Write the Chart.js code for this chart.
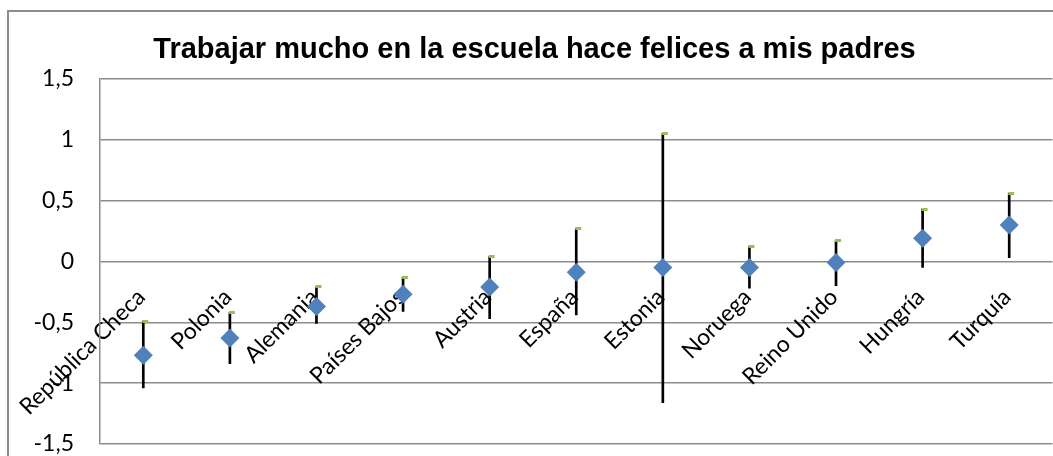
<!DOCTYPE html>
<html>
<head>
<meta charset="utf-8">
<script src="https://cdn.jsdelivr.net/npm/chart.js@4"></script>
<style>
html, body { margin: 0; padding: 0; background: #fff; overflow: hidden; }
#frame { position: absolute; left: 7px; top: 10px; width: 1064px; height: 470px; border: 2px solid #8c8c8c; box-sizing: border-box; }
#box { position: absolute; left: 8px; top: 11px; width: 1054px; height: 450px; }
</style>
</head>
<body>
<div id="frame"></div>
<div id="box"><canvas id="myChart"></canvas></div>
<script>
// values
const countries = ["República Checa", "Polonia", "Alemania", "Países Bajos", "Austria", "España",
                   "Estonia", "Noruega", "Reino Unido", "Hungría", "Turquía"];
const means = [-0.77, -0.63, -0.37, -0.27, -0.21, -0.09, -0.05, -0.05, -0.01, 0.19, 0.30];
const upper = [-0.49, -0.42, -0.21, -0.13, 0.04, 0.27, 1.05, 0.12, 0.17, 0.43, 0.56];
const lower = [-1.04, -0.84, -0.51, -0.41, -0.47, -0.44, -1.16, -0.22, -0.20, -0.05, 0.03];

const yTickValues = [-1.5, -1, -0.5, 0, 0.5, 1, 1.5];
const yTickLabels = ["-1,5", "-1", "-0,5", "0", "0,5", "1", "1,5"];

const chartTitle = "Trabajar mucho en la escuela hace felices a mis padres";

// little green dash at the top of each whisker (sits right of the line)
const dash = document.createElement("canvas");
dash.width = 12;
dash.height = 3;
let dctx = dash.getContext("2d");
dctx.fillStyle = "#9bbb59";
dctx.fillRect(5, 0, 6, 3);

const gridGray = "#8c8c8c";
const labelFont = { family: "Lato", size: 23 };

let ctx = document.getElementById("myChart").getContext("2d");
var chart = new Chart(ctx, {
    type: "line",
    data: {
        labels: countries,
        datasets: [
            {
                label: "media",
                data: means,
                showLine: false,
                pointStyle: "rectRot",
                pointRadius: 9.5,
                pointBorderWidth: 0,
                backgroundColor: "#4f81bd",
                borderColor: "#4f81bd"
            },
            {
                label: "alto",
                data: upper,
                showLine: false,
                pointStyle: dash,
                pointRadius: 6
            },
            {
                type: "bar",
                label: "rango",
                data: lower.map((l, i) => [l, upper[i]]),
                backgroundColor: "#000",
                borderWidth: 0,
                barThickness: 2
            }
        ]
    },
    options: {
        responsive: true,
        maintainAspectRatio: false,
        animation: false,
        events: [],
        layout: { padding: { left: 0, right: 1, top: 0, bottom: 17 } },
        plugins: {
            legend: { display: false },
            tooltip: { enabled: false },
            title: {
                display: true,
                text: chartTitle,
                color: "#000",
                font: { family: "Liberation Sans", size: 29, weight: "bold", lineHeight: 1.2 },
                padding: { top: 22, bottom: 11 }
            }
        },
        scales: {
            x: {
                type: "category",
                position: { y: 0 },
                offset: true,
                // the rotated labels may hang outside the plot, don't let them push it
                afterFit: (scale) => {
                    scale.paddingLeft = 0;
                    scale.paddingRight = 0;
                    scale.paddingTop = 0;
                    scale.paddingBottom = 0;
                },
                grid: { display: false, drawTicks: false, tickLength: 0 },
                border: { display: false },
                ticks: {
                    autoSkip: false,
                    minRotation: 45,
                    maxRotation: 45,
                    padding: 22,
                    labelOffset: -2,
                    color: "#000",
                    font: labelFont
                }
            },
            y: {
                min: -1.5,
                max: 1.5,
                afterFit: (scale) => {
                    scale.width = 92;
                    scale.paddingTop = 0;
                    scale.paddingBottom = 0;
                },
                afterBuildTicks: (scale) => { scale.ticks = yTickValues.map(v => ({ value: v })); },
                grid: { color: gridGray, lineWidth: 1.5, drawTicks: false },
                border: { color: gridGray, width: 1.5 },
                ticks: {
                    padding: 26,
                    color: "#000",
                    font: labelFont,
                    callback: (v) => {
                        let i = yTickValues.indexOf(v);
                        return i >= 0 ? yTickLabels[i] : "";
                    }
                }
            }
        }
    }
});
</script>
</body>
</html>
